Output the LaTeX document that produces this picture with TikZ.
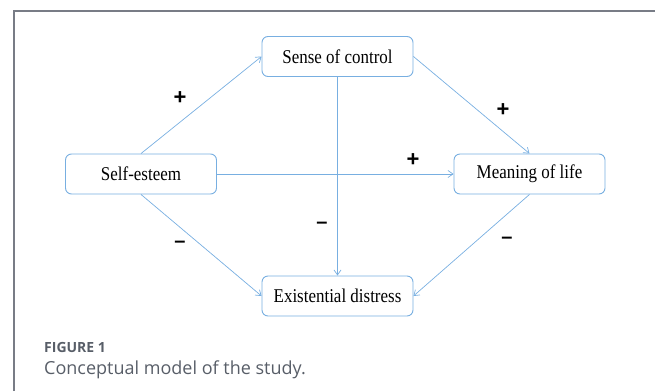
\documentclass[tikz,border=0pt]{standalone}
\usepackage{fontspec}
\setmainfont{Liberation Serif}
\newfontfamily\boitefont[FakeStretch=0.87]{Liberation Serif}
\newfontfamily\signefont{Liberation Sans}
\newfontfamily\legendefont{Open Sans}
\usepackage{tikz}
\usetikzlibrary{arrows.meta,positioning}
\definecolor{bleuCadre}{RGB}{120,175,225}
\definecolor{grisCadre}{RGB}{120,124,134}
\definecolor{grisLegende}{RGB}{88,94,104}

\tikzset{
  boite/.style={draw=bleuCadre, line width=0.9pt, rounded corners=6pt, fill=white,
                minimum width=151pt, minimum height=40pt, inner sep=0pt,
                font=\boitefont\fontsize{19.5}{22}\selectfont},
  fleche/.style={-{Straight Barb[length=5pt,width=7pt]}, draw=bleuCadre, line width=0.7pt},
  signe/.style={font=\signefont\bfseries\fontsize{22}{24}\selectfont, inner sep=0pt},
  moins/.style={font=\signefont\bfseries\fontsize{20}{22}\selectfont, inner sep=0pt}
}

\begin{document}
\begin{tikzpicture}[x=1pt, y=-1pt]
\useasboundingbox (0,0) rectangle (655,391);

% Cadre
\draw[grisCadre, line width=1.2pt] (14,391) -- (14,11) -- (655,11);

% Variables
\node[boite] (controle) at (337.5,56.5) {Sense of control};
\node[boite] (estime) at (141,174) {Self-esteem};
\node[boite] (sens) at (529.5,174) {Meaning of life};
\node[boite] (detresse) at (337.5,296) {Existential distress};

% Relations
\draw[fleche] (estime.north) -- (controle.west);
\draw[fleche] (controle.east) -- (sens.north);
\draw[fleche] (estime.east) -- (sens.west);
\draw[fleche] (controle.south) -- (detresse.north);
\draw[fleche] (estime.south) -- (detresse.west);
\draw[fleche] (sens.south) -- (detresse.east);

% Signes
\node[signe] (p1) at (180,98) {+};
\node[signe] (p2) at (503,110) {+};
\node[signe] (p3) at (413,160) {+};
\node[moins] (m1) at (322,225) {–};
\node[moins] (m2) at (180,244) {–};
\node[moins] (m3) at (507,240) {–};

% Legende
\node[anchor=west, inner sep=0pt, text=grisLegende,
      font=\legendefont\bfseries\fontsize{14}{16}\selectfont] (fig) at (44,347) {FIGURE 1};
\node[anchor=west, inner sep=0pt, text=grisLegende,
      font=\legendefont\fontsize{18}{22}\selectfont] (titre) at (44,370) {Conceptual model of the study.};

\end{tikzpicture}
\end{document}
